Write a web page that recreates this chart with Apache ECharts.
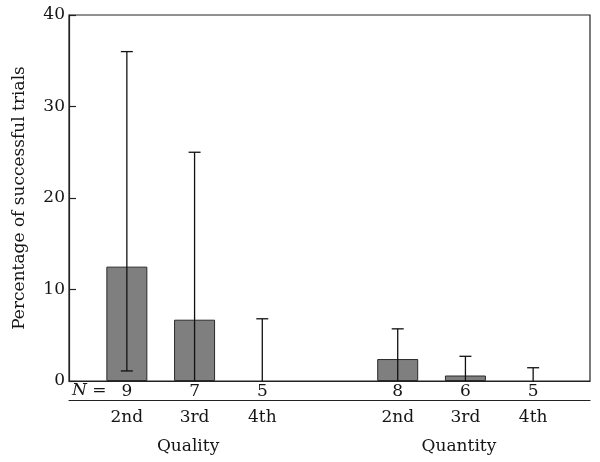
<!DOCTYPE html>
<html><head><meta charset="utf-8">
<script src="https://cdn.jsdelivr.net/npm/echarts@6/dist/echarts.min.js"></script>
<style>html,body{margin:0;padding:0;background:#fff}#c{width:600px;height:462px}</style>
</head><body><div id="c"></div>
<script>
const categoryKeys = ['q2','q3','q4','gap','t2','t3','t4'];
const rankLabels = ['2nd','3rd','4th','','2nd','3rd','4th'];
const nValues = ['9','7','5','','8','6','5'];
const groupLabels = ['', 'Quality', '', '', '', 'Quantity', ''];
const meanValues = [12.5, 6.7, 0, null, 2.4, 0.6, 0];
const errLow = [1.1, 0, 0, null, 0, 0, 0];
const errHigh = [36, 25, 6.8, null, 5.7, 2.7, 1.45];
const yTicks = [0, 10, 20, 30, 40];

const FONT = 'DejaVu Serif';
const FS = 17;
const TXT = '#151515';
const chart = echarts.init(document.getElementById('c'), null, {renderer:'canvas'});

const errData = categoryKeys.map((k,i)=> errHigh[i]==null ? null : [i, errLow[i], errHigh[i]]).filter(d=>d);
const barData = meanValues.map(v => v === 0 ? {value:0, itemStyle:{borderWidth:0, opacity:0}} : v);

chart.setOption({
  animation:false,
  textStyle:{fontFamily:FONT},
  grid:[
    {left:69, right:10, top:15, bottom:81, show:true, borderColor:'#222', borderWidth:1.2, backgroundColor:'transparent'},
    {left:93, right:33, top:15, bottom:81}
  ],
  xAxis:[
    {gridIndex:0, type:'value', min:0, max:1, axisLine:{show:true, lineStyle:{color:'#222', width:1.2}}, axisTick:{show:false}, axisLabel:{show:false}, splitLine:{show:false}},
    {gridIndex:0, type:'value', min:0, max:1, position:'bottom', offset:19, axisLine:{show:true, lineStyle:{color:'#222', width:1.2}}, axisTick:{show:false}, axisLabel:{show:false}, splitLine:{show:false}},
    {gridIndex:1, type:'category', data:categoryKeys, axisLine:{show:false}, axisTick:{show:false}, splitLine:{show:false},
      axisLabel:{interval:0, margin:0, color:TXT, fontFamily:FONT,
        formatter:(v, idx)=>{
          let s = '{n|' + nValues[idx] + '}\n{c|' + rankLabels[idx] + '}';
          if (groupLabels[idx]) s += '\n{g|' + groupLabels[idx] + '}';
          return s;
        },
        rich:{
          n:{fontSize:FS, lineHeight:22, fontFamily:FONT, color:TXT, align:'center'},
          c:{fontSize:FS, lineHeight:30, fontFamily:FONT, color:TXT, align:'center'},
          g:{fontSize:FS, lineHeight:28, fontFamily:FONT, color:TXT, align:'center', padding:[0,13,0,0]}
        }
      }
    }
  ],
  yAxis:[
    {gridIndex:0, type:'value', min:0, max:40, interval:10,
      name:'Percentage of successful trials', nameLocation:'middle', nameGap:41,
      nameTextStyle:{fontSize:FS, fontFamily:FONT, color:TXT},
      axisLine:{show:true, lineStyle:{color:'#222', width:1.2}},
      axisTick:{show:true, inside:true, length:7, lineStyle:{color:'#222', width:1.2}},
      axisLabel:{margin:4, fontSize:FS, fontFamily:FONT, color:TXT},
      splitLine:{show:false}},
    {gridIndex:1, type:'value', min:0, max:40, show:false}
  ],
  graphic:[
    {type:'text', left:72, top:382, style:{text:'{i|N} =', fontSize:FS, fontFamily:FONT, fill:TXT,
      rich:{i:{fontStyle:'italic', fontSize:FS, fontFamily:FONT}}}}
  ],
  series:[
    {type:'bar', xAxisIndex:2, yAxisIndex:1, data:barData, barWidth:41,
      itemStyle:{color:'#7f7f7f', borderColor:'#2a2a2a', borderWidth:1}, z:2},
    {type:'custom', xAxisIndex:2, yAxisIndex:1, data:errData, z:3,
      renderItem:(params, api)=>{
        const x = api.value(0), lo = api.value(1), hi = api.value(2);
        const pHi = api.coord([x, hi]);
        const pLo = api.coord([x, lo]);
        const hw = 6;
        const children = [
          {type:'line', shape:{x1:pHi[0], y1:pHi[1], x2:pLo[0], y2:pLo[1]}, style:{stroke:'#111', lineWidth:1.3}},
          {type:'line', shape:{x1:pHi[0]-hw, y1:pHi[1], x2:pHi[0]+hw, y2:pHi[1]}, style:{stroke:'#111', lineWidth:1.3}}
        ];
        if (lo > 0) children.push({type:'line', shape:{x1:pLo[0]-hw, y1:pLo[1], x2:pLo[0]+hw, y2:pLo[1]}, style:{stroke:'#111', lineWidth:1.3}});
        return {type:'group', children};
      }
    }
  ]
});
</script></body></html>
